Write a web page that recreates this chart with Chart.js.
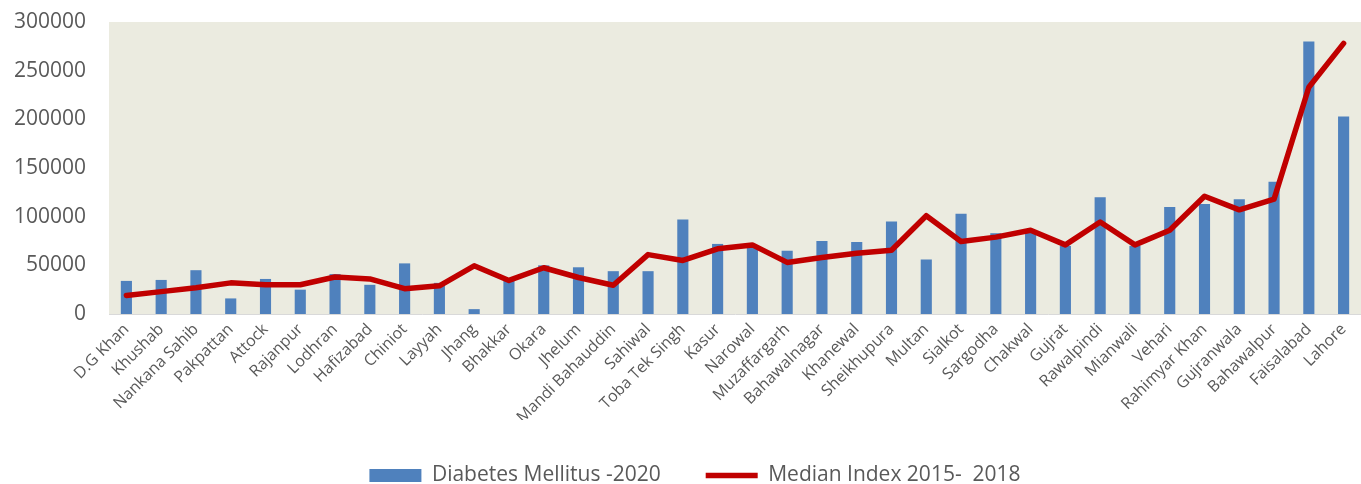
<!DOCTYPE html>
<html>
<head>
<meta charset="utf-8">
<script src="https://cdn.jsdelivr.net/npm/chart.js@4.4.1/dist/chart.umd.min.js"></script>
<style>
  html, body { margin: 0; padding: 0; background: #fff; }
  #wrap { width: 1361px; height: 484px; }
</style>
</head>
<body>
<div id="wrap"><canvas id="chart" width="1361" height="484"></canvas></div>
<script>
  // districts, ordered by the median index
  var districts = ['D.G Khan', 'Khushab', 'Nankana Sahib', 'Pakpattan', 'Attock', 'Rajanpur',
    'Lodhran', 'Hafizabad', 'Chiniot', 'Layyah', 'Jhang', 'Bhakkar', 'Okara', 'Jhelum',
    'Mandi Bahauddin', 'Sahiwal', 'Toba Tek Singh', 'Kasur', 'Narowal', 'Muzaffargarh',
    'Bahawalnagar', 'Khanewal', 'Sheikhupura', 'Multan', 'Sialkot', 'Sargodha', 'Chakwal',
    'Gujrat', 'Rawalpindi', 'Mianwali', 'Vehari', 'Rahimyar Khan', 'Gujranwala',
    'Bahawalpur', 'Faisalabad', 'Lahore'];

  var diabetes2020 = [34000, 35000, 45000, 16000, 36000, 25000, 41000, 30000, 52000, 32000,
    5000, 34000, 50000, 48000, 44000, 44000, 97000, 72000, 70000, 65000, 75000, 74000,
    95000, 56000, 103000, 83000, 84000, 70000, 120000, 70000, 110000, 113000, 118000,
    136000, 280000, 203000];

  var medianIndex = [19000, 23000, 27000, 32000, 30000, 30000, 38000, 36000, 26000, 29000,
    49500, 34500, 47500, 37500, 29500, 61000, 55000, 67000, 71000, 53000, 58000, 62500,
    65500, 101000, 74500, 79000, 86000, 71000, 94500, 71000, 86000, 121000, 107000,
    118000, 233000, 278000];

  var yTicks = [0, 50000, 100000, 150000, 200000, 250000, 300000];

  var textColor = '#595959';

  // plot area fill
  var plotBg = {
    id: 'plotBg',
    beforeDraw: function (chart) {
      var a = chart.chartArea, ctx = chart.ctx;
      ctx.save();
      ctx.fillStyle = '#EBEBE0';
      ctx.fillRect(a.left, a.top, a.right - a.left, a.bottom - a.top);
      ctx.restore();
    }
  };

  // nudge the legend block a little to the right
  var legendShift = {
    id: 'legendShift',
    afterLayout: function (chart) {
      if (chart.legend) chart.legend.left = 29;
    }
  };

  var ctx = document.getElementById('chart').getContext('2d');
  var chart = new Chart(ctx, {
    type: 'bar',
    data: {
      labels: districts,
      datasets: [{
        type: 'bar',
        label: 'Diabetes Mellitus -2020',
        data: diabetes2020,
        backgroundColor: '#4F81BD',
        borderWidth: 0,
        barPercentage: 0.32,
        categoryPercentage: 1,
        order: 1
      }, {
        type: 'line',
        label: 'Median Index 2015-  2018',
        data: medianIndex,
        borderColor: '#C00000',
        backgroundColor: '#C00000',
        borderWidth: 5.5,
        borderCapStyle: 'round',
        borderJoinStyle: 'round',
        pointRadius: 0,
        tension: 0,
        order: 0
      }]
    },
    options: {
      responsive: false,
      animation: false,
      layout: { padding: { top: 22, right: 0, left: 0, bottom: -12 } },
      plugins: {
        tooltip: { enabled: false },
        legend: {
          position: 'bottom',
          labels: {
            usePointStyle: true,
            pointStyleWidth: 52,
            boxHeight: 13,
            padding: 45,
            color: textColor,
            font: { family: 'Open Sans', size: 21 },
            sort: function (a, b) { return a.datasetIndex - b.datasetIndex; },
            generateLabels: function (chart) {
              var items = Chart.defaults.plugins.legend.labels.generateLabels(chart);
              items.forEach(function (it) {
                it.pointStyle = it.datasetIndex === 0 ? 'rect' : 'line';
              });
              return items;
            }
          }
        }
      },
      scales: {
        x: {
          offset: true,
          grid: { display: false, drawTicks: false },
          border: { display: true, color: '#D9D9D9', width: 1 },
          ticks: {
            color: textColor,
            font: { family: 'Open Sans', size: 16 },
            maxRotation: 45,
            minRotation: 45,
            autoSkip: false,
            padding: 6
          },
          afterFit: function (scale) {
            scale.height = 106;
            scale.paddingLeft = 0;
            scale.paddingRight = 0;
          }
        },
        y: {
          min: 0,
          max: 300000,
          grid: { display: false, drawTicks: false },
          border: { display: false },
          afterBuildTicks: function (scale) {
            scale.ticks = yTicks.map(function (v) { return { value: v }; });
          },
          ticks: {
            color: textColor,
            font: { family: 'Open Sans', size: 21 },
            padding: 23,
            callback: function (v) { return String(v); }
          },
          afterFit: function (scale) {
            scale.width = 109;
            scale.paddingTop = 0;
            scale.paddingBottom = 0;
          }
        }
      }
    },
    plugins: [plotBg, legendShift]
  });
</script>
</body>
</html>
